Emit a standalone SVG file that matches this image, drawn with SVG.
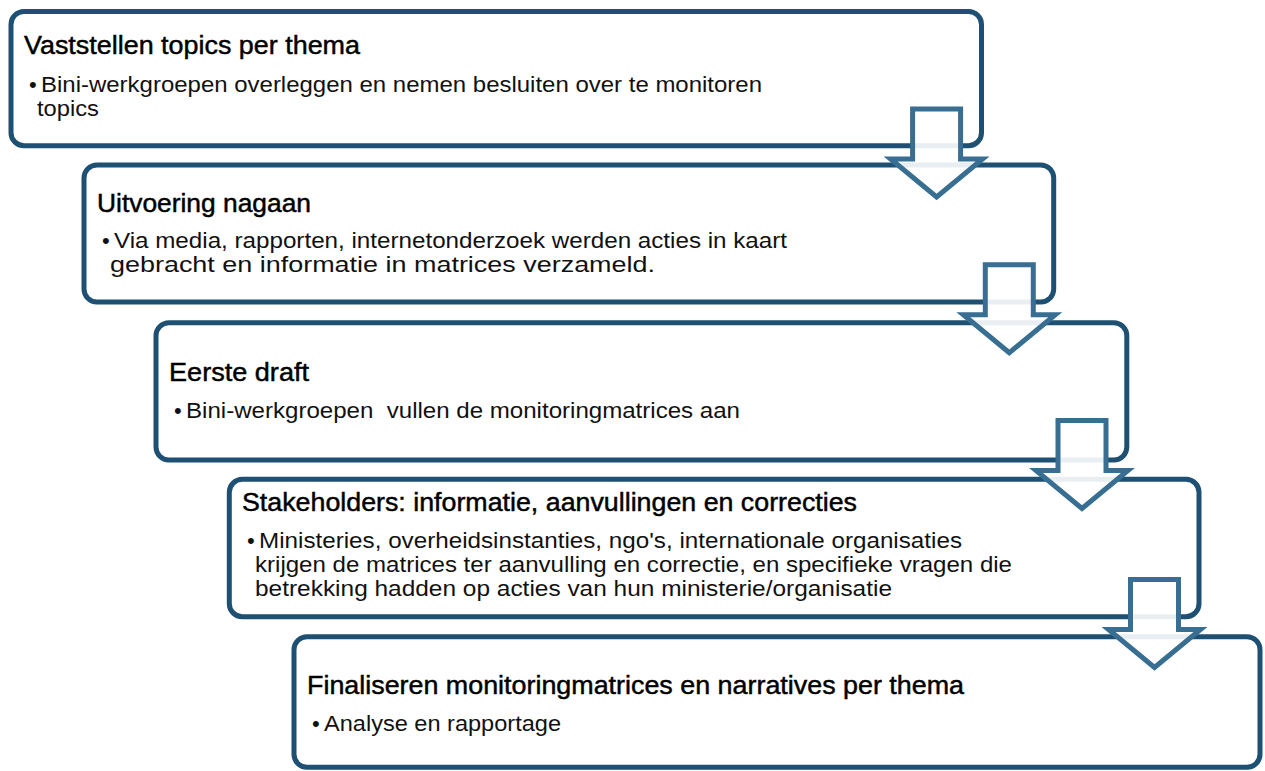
<svg xmlns="http://www.w3.org/2000/svg" width="1265" height="771" viewBox="0 0 1265 771">
<style>
.box{fill:#ffffff;stroke:#1d5072;stroke-width:5}
.title{font-family:"Liberation Sans",Arial,sans-serif;font-size:25px;fill:#000;stroke:#000;stroke-width:0.45}
.body{font-family:"Liberation Sans",Arial,sans-serif;font-size:22px;fill:#111;white-space:pre}
.arrow{fill:#ffffff;fill-opacity:0.9;stroke:#376e91;stroke-width:5;stroke-linejoin:miter}
</style>
<defs>
<path id="arr" d="M -24 0 H 24 V 50 H 46 L 0 88 L -46 50 H -24 Z"/>
</defs>
<rect width="1265" height="771" fill="#ffffff"/>
<g id="node1">
<rect class="box" x="11" y="11.5" width="970.5" height="134.2" rx="13"/>
<text class="title" x="24" y="54" textLength="336" lengthAdjust="spacingAndGlyphs">Vaststellen topics per thema</text>
<text class="body" x="29" y="92">•</text>
<text class="body" x="41" y="92" textLength="721" lengthAdjust="spacingAndGlyphs">Bini-werkgroepen overleggen en nemen besluiten over te monitoren</text>
<text class="body" x="37" y="116" textLength="62" lengthAdjust="spacingAndGlyphs">topics</text>
</g>
<g id="node2">
<rect class="box" x="84" y="165" width="969.7" height="137" rx="13"/>
<text class="title" x="97" y="211.5" textLength="214" lengthAdjust="spacingAndGlyphs">Uitvoering nagaan</text>
<text class="body" x="102" y="248">•</text>
<text class="body" x="114" y="248" textLength="673" lengthAdjust="spacingAndGlyphs">Via media, rapporten, internetonderzoek werden acties in kaart</text>
<text class="body" x="110" y="272" textLength="545" lengthAdjust="spacingAndGlyphs">gebracht en informatie in matrices verzameld.</text>
</g>
<g id="node3">
<rect class="box" x="156" y="322.7" width="970.8" height="137.3" rx="13"/>
<text class="title" x="169" y="381" textLength="140" lengthAdjust="spacingAndGlyphs">Eerste draft</text>
<text class="body" x="174" y="418">•</text>
<text class="body" x="186" y="418" textLength="554" lengthAdjust="spacingAndGlyphs">Bini-werkgroepen  vullen de monitoringmatrices aan</text>
</g>
<g id="node4">
<rect class="box" x="229.3" y="479.3" width="969.7" height="137.4" rx="13"/>
<text class="title" x="242" y="511" textLength="615" lengthAdjust="spacingAndGlyphs">Stakeholders: informatie, aanvullingen en correcties</text>
<text class="body" x="247" y="548">•</text>
<text class="body" x="259" y="548" textLength="703" lengthAdjust="spacingAndGlyphs">Ministeries, overheidsinstanties, ngo's, internationale organisaties</text>
<text class="body" x="255" y="572" textLength="757" lengthAdjust="spacingAndGlyphs">krijgen de matrices ter aanvulling en correctie, en specifieke vragen die</text>
<text class="body" x="255" y="596" textLength="637" lengthAdjust="spacingAndGlyphs">betrekking hadden op acties van hun ministerie/organisatie</text>
</g>
<g id="node5">
<rect class="box" x="294" y="636.7" width="966" height="130.6" rx="13"/>
<text class="title" x="307" y="694" textLength="657" lengthAdjust="spacingAndGlyphs">Finaliseren monitoringmatrices en narratives per thema</text>
<text class="body" x="312" y="731">•</text>
<text class="body" x="324" y="731" textLength="237" lengthAdjust="spacingAndGlyphs">Analyse en rapportage</text>
</g>
<g id="connectors">
<use href="#arr" class="arrow" transform="translate(936.6,109)"/>
<use href="#arr" class="arrow" transform="translate(1009.3,264.7)"/>
<use href="#arr" class="arrow" transform="translate(1082,420.5)"/>
<use href="#arr" class="arrow" transform="translate(1154.5,579.5)"/>
</g>
</svg>
